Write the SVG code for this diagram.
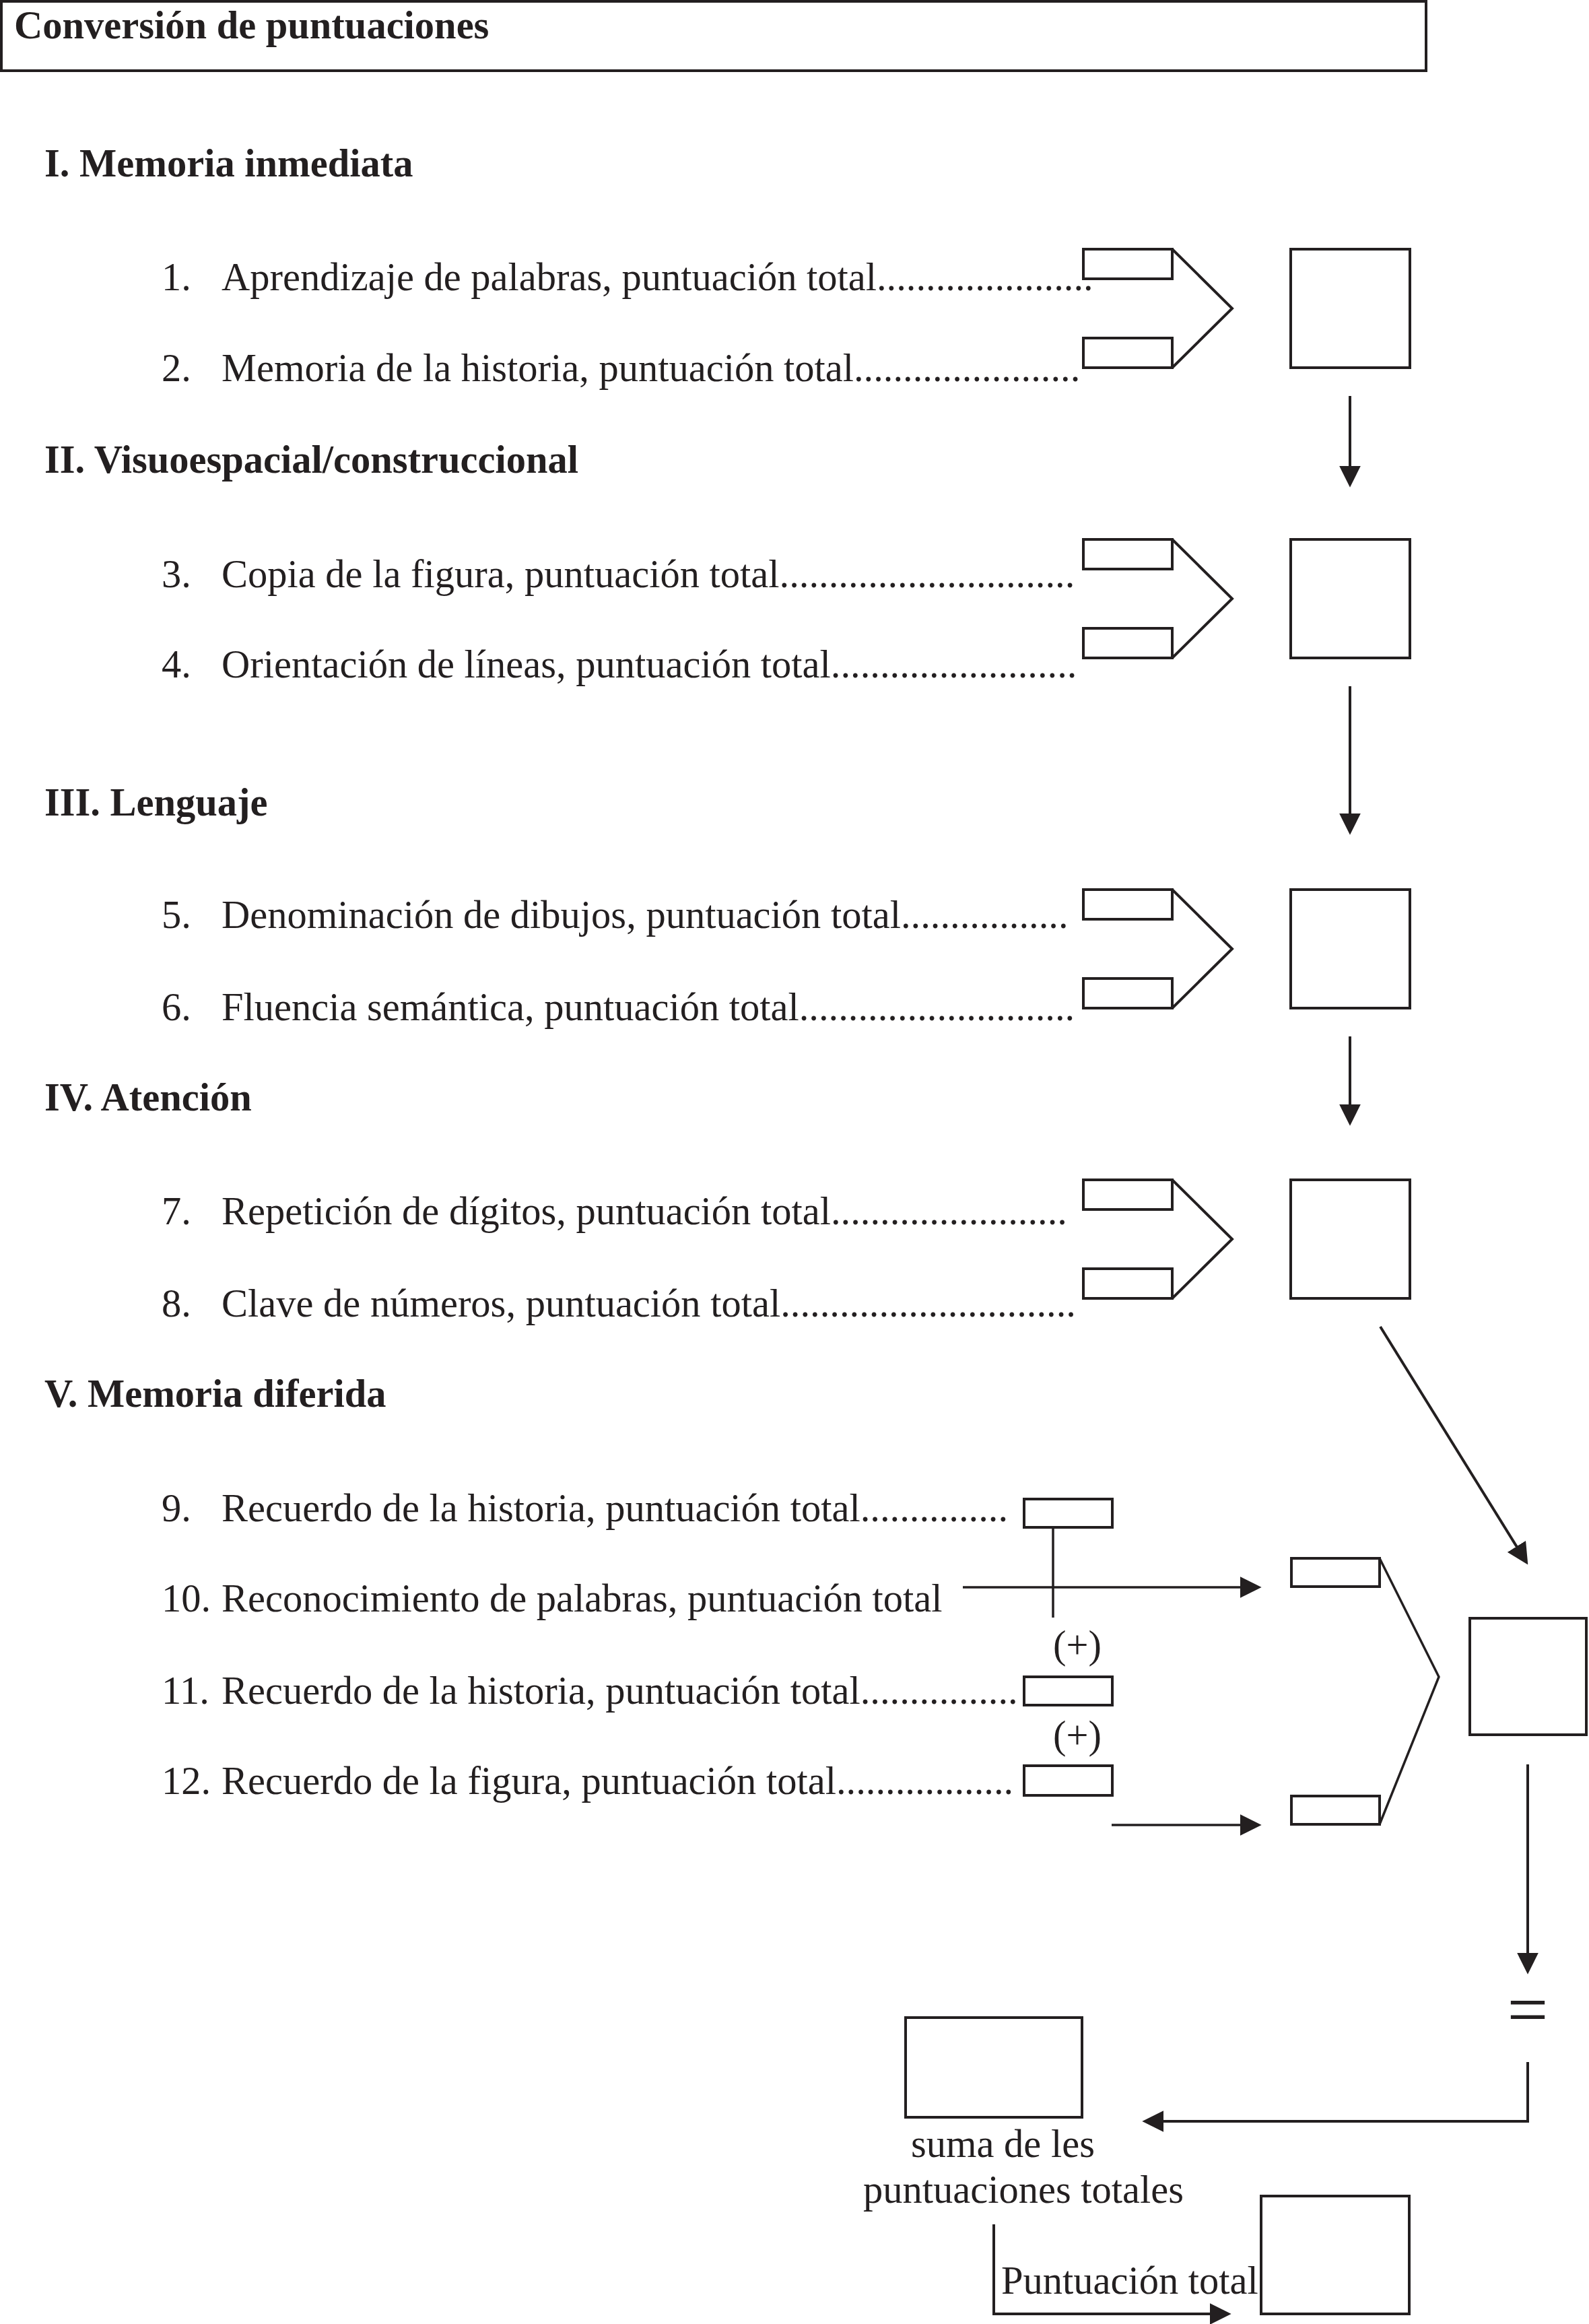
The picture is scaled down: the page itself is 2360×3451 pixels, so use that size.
<svg xmlns="http://www.w3.org/2000/svg" width="2360" height="3451" viewBox="0 0 2360 3451">
<defs>
<style>
text{font-family:"Liberation Serif","Times New Roman",serif;font-size:58.5px;fill:#231f20}
.b{font-weight:bold}
.eq{font-size:108px}
.box{fill:none;stroke:#231f20;stroke-width:4}
.ln{fill:none;stroke:#231f20;stroke-width:4;stroke-linejoin:miter}
.thin{fill:none;stroke:#231f20;stroke-width:3.5}
.arr{marker-end:url(#ah)}
</style>
<marker id="ah" markerUnits="userSpaceOnUse" markerWidth="32" markerHeight="32" viewBox="0 0 30 30" refX="20" refY="15" orient="auto">
<path d="M0,0 L30,15 L0,30 z" fill="#231f20"/>
</marker>
</defs>
<rect width="2360" height="3451" fill="#fff"/>

<g id="title">
<rect class="box" x="2" y="2" width="2116" height="103"/>
<text class="b" x="21" y="57">Conversión de puntuaciones</text>
</g>

<g id="headers">
<text id="h1" class="b" x="66" y="262">I. Memoria inmediata</text>
<text id="h2" class="b" x="66" y="702">II. Visuoespacial/construccional</text>
<text id="h3" class="b" x="66" y="1211">III. Lenguaje</text>
<text id="h4" class="b" x="66" y="1649">IV. Atención</text>
<text id="h5" class="b" x="66" y="2089">V. Memoria diferida</text>
</g>

<g id="items">
<g id="item1"><text x="240" y="431">1.</text><text x="329" y="431">Aprendizaje de palabras, puntuación total......................</text></g>
<g id="item2"><text x="240" y="566">2.</text><text x="329" y="566">Memoria de la historia, puntuación total.......................</text></g>
<g id="item3"><text x="240" y="872">3.</text><text x="329" y="872">Copia de la figura, puntuación total..............................</text></g>
<g id="item4"><text x="240" y="1006">4.</text><text x="329" y="1006">Orientación de líneas, puntuación total.........................</text></g>
<g id="item5"><text x="240" y="1378">5.</text><text x="329" y="1378">Denominación de dibujos, puntuación total.................</text></g>
<g id="item6"><text x="240" y="1515">6.</text><text x="329" y="1515">Fluencia semántica, puntuación total............................</text></g>
<g id="item7"><text x="240" y="1818">7.</text><text x="329" y="1818">Repetición de dígitos, puntuación total........................</text></g>
<g id="item8"><text x="240" y="1955">8.</text><text x="329" y="1955">Clave de números, puntuación total..............................</text></g>
<g id="item9"><text x="240" y="2259">9.</text><text x="329" y="2259">Recuerdo de la historia, puntuación total...............</text></g>
<g id="item10"><text x="240" y="2393">10.</text><text x="329" y="2393">Reconocimiento de palabras, puntuación total</text></g>
<g id="item11"><text x="240" y="2530">11.</text><text x="329" y="2530">Recuerdo de la historia, puntuación total................</text></g>
<g id="item12"><text x="240" y="2664">12.</text><text x="329" y="2664">Recuerdo de la figura, puntuación total..................</text></g>
</g>

<g id="group1">
<rect class="box" x="1609" y="370" width="132" height="44"/>
<rect class="box" x="1609" y="502" width="132" height="44"/>
<path class="ln" d="M1741,370 L1830,458 L1741,546"/>
<rect class="box" x="1917" y="370" width="177" height="176"/>
</g>
<g id="group2">
<rect class="box" x="1609" y="801" width="132" height="44"/>
<rect class="box" x="1609" y="933" width="132" height="44"/>
<path class="ln" d="M1741,801 L1830,889 L1741,977"/>
<rect class="box" x="1917" y="801" width="177" height="176"/>
</g>
<g id="group3">
<rect class="box" x="1609" y="1321" width="132" height="44"/>
<rect class="box" x="1609" y="1453" width="132" height="44"/>
<path class="ln" d="M1741,1321 L1830,1409 L1741,1497"/>
<rect class="box" x="1917" y="1321" width="177" height="176"/>
</g>
<g id="group4">
<rect class="box" x="1609" y="1752" width="132" height="44"/>
<rect class="box" x="1609" y="1884" width="132" height="44"/>
<path class="ln" d="M1741,1752 L1830,1840 L1741,1928"/>
<rect class="box" x="1917" y="1752" width="177" height="176"/>
</g>

<g id="group5">
<rect id="box9" class="box" x="1521" y="2226" width="131" height="42"/>
<rect id="box11" class="box" x="1521" y="2490" width="131" height="42"/>
<rect id="box12" class="box" x="1521" y="2622" width="131" height="44"/>
<text x="1600" y="2462" text-anchor="middle">(+)</text>
<text x="1600" y="2596" text-anchor="middle">(+)</text>
<rect id="box10a" class="box" x="1918" y="2314" width="131" height="42"/>
<rect id="box12a" class="box" x="1918" y="2667" width="131" height="42"/>
<path class="thin" d="M2049,2314 L2137,2490 L2049,2709"/>
<rect id="box5" class="box" x="2183" y="2403" width="173" height="173"/>
</g>

<g id="final">
<text class="eq" x="2269" y="3020" text-anchor="middle">=</text>
<rect id="sumabox" class="box" x="1345" y="2996" width="262" height="148"/>
<text x="1353" y="3203">suma de les</text>
<text x="1282" y="3271">puntuaciones totales</text>
<text x="1487" y="3406">Puntuación total</text>
<rect id="totalbox" class="box" x="1873" y="3261" width="220" height="175"/>
</g>

<g id="connectors">
<line class="ln arr" x1="2005" y1="588" x2="2005" y2="713"/>
<line class="ln arr" x1="2005" y1="1019" x2="2005" y2="1229"/>
<line class="ln arr" x1="2005" y1="1539" x2="2005" y2="1661"/>
<line class="ln arr" x1="2050" y1="1970" x2="2263.7" y2="2314.5"/>
<line class="thin" x1="1564" y1="2270" x2="1564" y2="2402"/>
<line class="thin arr" x1="1430" y1="2357" x2="1863" y2="2357"/>
<line class="thin arr" x1="1651" y1="2710" x2="1863" y2="2710"/>
<line class="ln arr" x1="2269" y1="2620" x2="2269" y2="2921"/>
<path class="ln arr" d="M2269,3062 V3150 H1707"/>
<path class="ln arr" d="M1476,3303 V3436 H1818"/>
</g>
</svg>
